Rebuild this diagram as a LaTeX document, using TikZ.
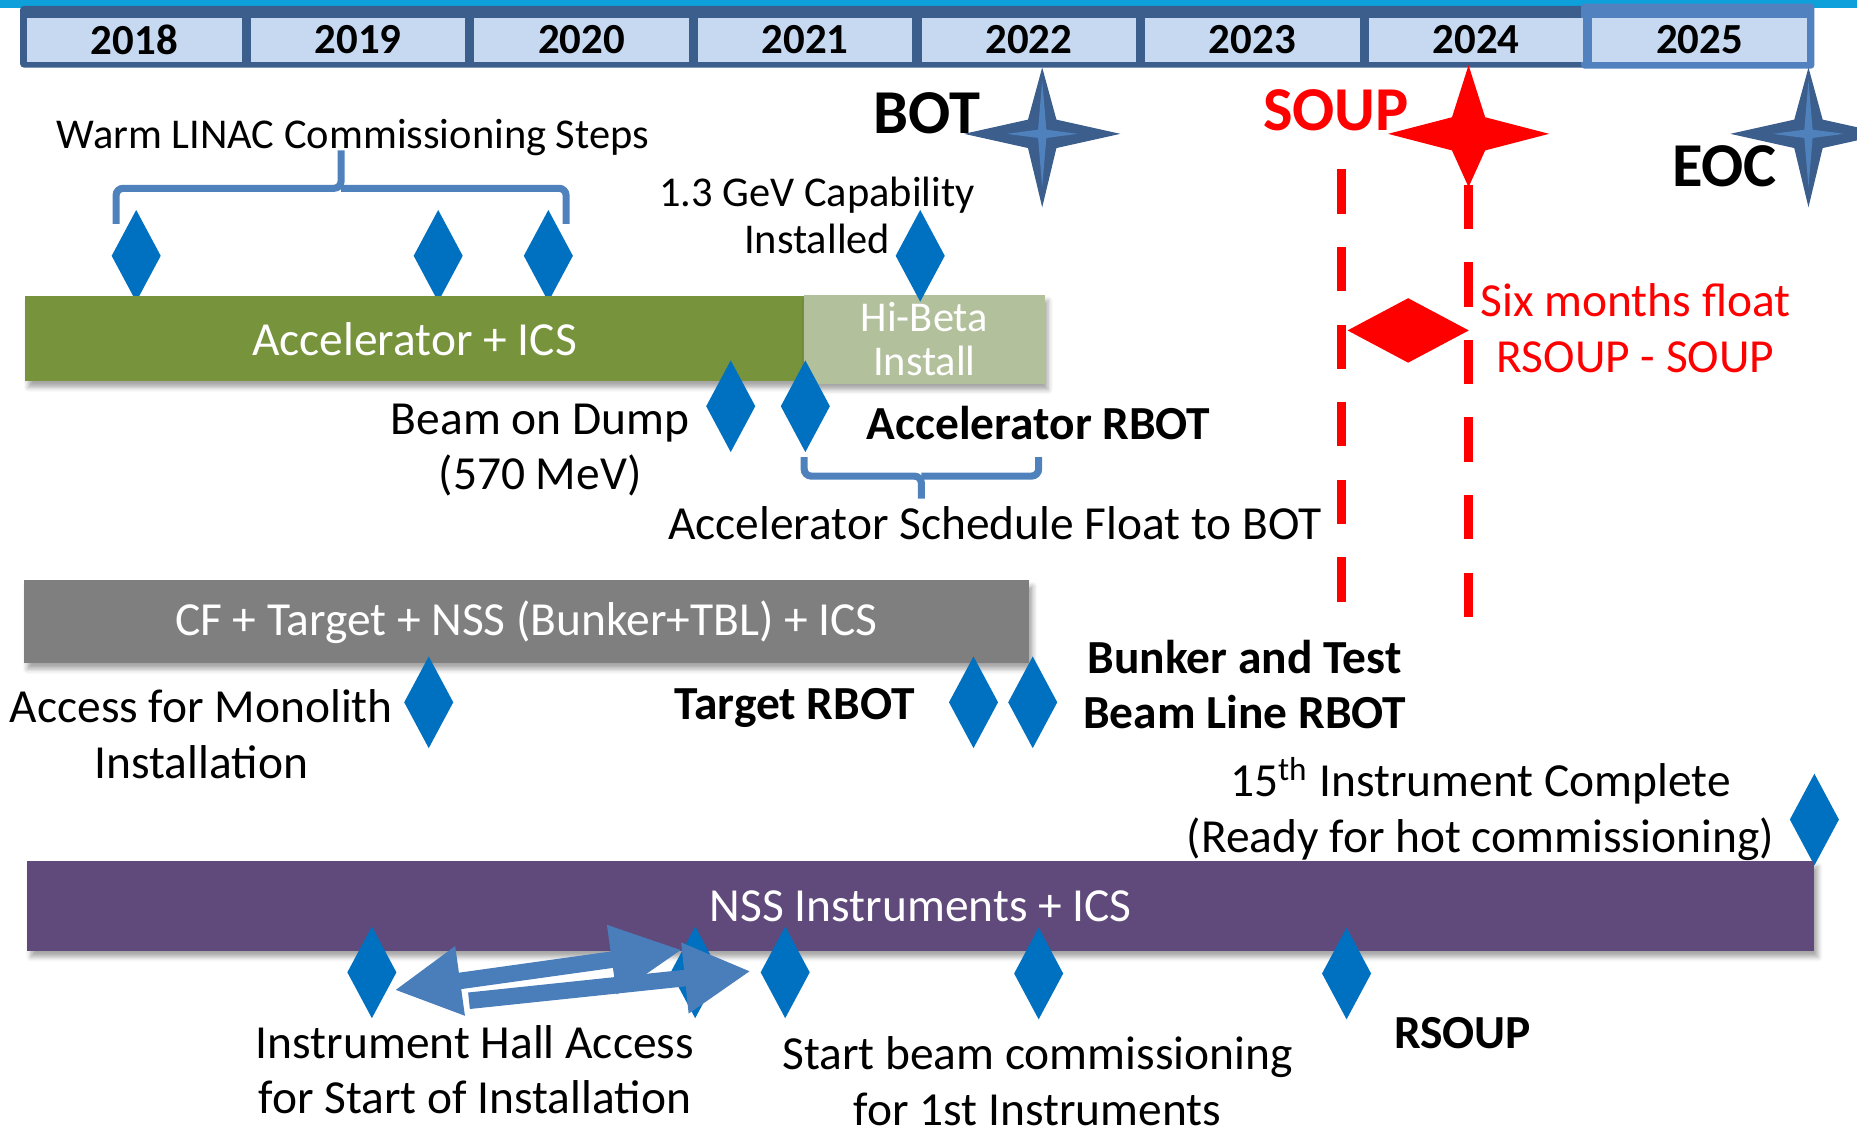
\documentclass[tikz,border=0pt]{standalone}
\usepackage{fontspec}
\setmainfont{Carlito}
\usetikzlibrary{shapes.geometric,arrows.meta,calc,shadows.blur}

\definecolor{topline}{HTML}{0EA0DA}
\definecolor{yearbar}{HTML}{3B5E8C}
\definecolor{yearedge}{HTML}{5181BE}
\definecolor{yearcell}{HTML}{C6D9F1}
\definecolor{mileblue}{HTML}{0070C0}
\definecolor{bracecol}{HTML}{4F81BD}
\definecolor{arrowcol}{HTML}{4A7EBB}
\definecolor{accgreen}{HTML}{77933C}
\definecolor{hibeta}{HTML}{B2C09B}
\definecolor{cfgray}{HTML}{7F7F7F}
\definecolor{nsspurple}{HTML}{604A7B}

% centre, colour, arm up, arm down, arm sideways, waist
\newcommand{\milestar}[6]{%
  \fill[#2] ($(#1)+(0,#3)$) -- ($(#1)+(#6,#6)$) -- ($(#1)+(#5,0)$)
    -- ($(#1)+(#6,-#6)$) -- ($(#1)+(0,-#4)$) -- ($(#1)+(-#6,-#6)$)
    -- ($(#1)+(-#5,0)$) -- ($(#1)+(-#6,#6)$) -- cycle;}

\tikzset{
  yearbox/.style={fill=yearcell, minimum width=1.81cm, minimum height=0.37cm, inner sep=0pt,
    font=\fontsize{10.3}{12}\selectfont\bfseries},
  milestone/.style={diamond, fill=mileblue, minimum width=0.42cm, minimum height=0.78cm, inner sep=0pt},
  txt/.style={align=center, inner sep=0pt, font=\fontsize{11.4}{13.3}\selectfont},
  txtsmall/.style={align=center, inner sep=0pt, font=\fontsize{10.2}{11.2}\selectfont},
  txtbold/.style={align=center, inner sep=0pt, font=\fontsize{11.4}{13.3}\selectfont\bfseries},
  txtbig/.style={inner sep=0pt, font=\fontsize{15}{18}\selectfont\bfseries},
  bar/.style={inner sep=0pt, text=white, font=\fontsize{11.4}{13.3}\selectfont,
    blur shadow={shadow xshift=0.03cm, shadow yshift=-0.05cm, shadow blur radius=0.04cm, shadow opacity=35}},
  brace/.style={draw=bracecol, line width=0.06cm, rounded corners=0.06cm},
  floatline/.style={draw=red, line width=0.075cm, dash pattern=on 0.375cm off 0.28cm},
  fatarrow/.style={draw=arrowcol, line width=0.14cm}
}

\begin{document}
\begin{tikzpicture}[>=Triangle]

\useasboundingbox (0,0) rectangle (15.68,-9.55);
\clip (0,0) rectangle (15.68,-9.55);

% years
\fill[topline] (0,0) rectangle (15.68,-0.07);
\fill[yearbar, rounded corners=0.03cm] (0.17,-0.05) rectangle (13.45,-0.57);
\fill[yearedge, rounded corners=0.03cm] (13.35,-0.03) rectangle (15.32,-0.58);
\foreach \yr [count=\i from 0] in {2018,...,2025}
  \node[yearbox] at ({1.135+1.888*\i},-0.335) (Y\yr) {\yr};

% stars
\coordinate (BOTSTAR) at (8.80,-1.13);
\coordinate (SOUPSTAR) at (12.40,-1.13);
\coordinate (EOCSTAR) at (15.27,-1.13);
\milestar{BOTSTAR}{yearbar}{0.56}{0.62}{0.66}{0.12}
\milestar{BOTSTAR}{bracecol}{0.45}{0.45}{0.30}{0.035}
\milestar{EOCSTAR}{yearbar}{0.56}{0.62}{0.66}{0.12}
\milestar{EOCSTAR}{bracecol}{0.45}{0.45}{0.30}{0.035}
\milestar{SOUPSTAR}{red}{0.58}{0.45}{0.68}{0.14}
\node[txtbig] at (7.83,-0.96) (BOT) {BOT};
\node[txtbig, text=red] at (11.28,-0.93) (SOUP) {SOUP};
\node[txtbig] at (14.56,-1.40) (EOC) {EOC};

% float between SOUP and RSOUP
\coordinate (SOUPa) at (11.33,-1.43);
\coordinate (SOUPb) at (11.33,-5.08);
\coordinate (RSOUPa) at (12.40,-1.56);
\coordinate (RSOUPb) at (12.40,-5.21);
\draw[floatline] (SOUPa) -- (SOUPb);
\draw[floatline] (RSOUPa) -- (RSOUPb);
\node[diamond, fill=red, minimum width=1.03cm, minimum height=0.55cm, inner sep=0pt] at (11.89,-2.79) (FLOAT) {};
\node[txt, text=red] at (13.81,-2.77) (FLOATTXT) {Six months float\\RSOUP - SOUP};

% accelerator
\node[txtsmall] at (2.98,-1.16) (WARM) {Warm LINAC Commissioning Steps};
\draw[brace] (0.98,-1.89) |- (2.88,-1.59) -- (2.88,-1.27);
\draw[brace] (2.88,-1.59) -| (4.78,-1.89);
\node[milestone] at (1.15,-2.16) (W1) {};
\node[milestone] at (3.70,-2.16) (W2) {};
\node[milestone] at (4.63,-2.16) (W3) {};
\node[txtsmall] at (6.90,-1.82) (GEV) {1.3 GeV Capability\\Installed};
\node[bar, fill=accgreen, minimum width=6.58cm, minimum height=0.72cm] at (3.50,-2.86) (ACC) {Accelerator + ICS};
\node[bar, fill=hibeta, minimum width=2.03cm, minimum height=0.75cm, align=center,
  font=\fontsize{10.2}{10.6}\selectfont] at (7.805,-2.865) (HIB) {Hi-Beta\\Install};
\node[milestone] at (7.77,-2.16) (GEVM) {};
\node[milestone] at (6.17,-3.43) (DUMPM) {};
\node[milestone] at (6.80,-3.43) (ARBOTM) {};
\node[txt] at (4.56,-3.80) (DUMP) {Beam on Dump\\(570 MeV)};
\node[txtbold] at (8.77,-3.57) (ARBOT) {Accelerator RBOT};
\draw[brace] (6.79,-3.86) |- (7.78,-4.02) -- (7.78,-4.21);
\draw[brace] (7.78,-4.02) -| (8.77,-3.86);
\node[txt] at (8.40,-4.42) (SCHED) {Accelerator Schedule Float to BOT};

% target
\node[bar, fill=cfgray, minimum width=8.49cm, minimum height=0.70cm] at (4.445,-5.25) (CF) {CF + Target + NSS (Bunker+TBL) + ICS};
\node[milestone] at (3.62,-5.93) (MONOM) {};
\node[milestone] at (8.22,-5.93) (TRBOTM) {};
\node[milestone] at (8.72,-5.93) (BRBOTM) {};
\node[txt] at (1.70,-6.20) (MONO) {Access for Monolith\\Installation};
\node[txtbold] at (6.71,-5.98) (TRBOT) {Target RBOT};
\node[txtbold] at (10.51,-5.78) (BRBOT) {Bunker and Test\\Beam Line RBOT};

% instruments
\node[txt] at (12.50,-6.83) (HOT) {15\textsuperscript{th} Instrument Complete\\(Ready for hot commissioning)};
\node[milestone] at (15.32,-6.92) (HOTM) {};
\node[bar, fill=nsspurple, minimum width=15.09cm, minimum height=0.76cm] at (7.775,-7.65) (NSS) {NSS Instruments + ICS};
\node[milestone] at (3.14,-8.21) (HALLM) {};
\node[milestone] at (5.87,-8.21) (INSTM) {};
\node[milestone] at (6.63,-8.21) (BEAMM) {};
\node[milestone] at (8.77,-8.22) (FIRSTM) {};
\node[milestone] at (11.37,-8.22) (RSOUPM) {};
\coordinate (HALLL) at (3.33,-8.36);
\coordinate (HALLR) at (5.76,-8.02);
\coordinate (BEAML) at (3.96,-8.45);
\coordinate (BEAMR) at (6.34,-8.20);
\draw[fatarrow, {Triangle[width=0.55cm,length=0.56cm]}-{Triangle[width=0.55cm,length=0.6cm]}] (HALLL) -- (HALLR);
\draw[fatarrow, -{Triangle[width=0.56cm,length=0.56cm]}] (BEAML) -- (BEAMR);
\node[txt] at (4.01,-9.03) (HALL) {Instrument Hall Access\\for Start of Installation};
\node[txt] at (8.76,-9.13) (BEAM) {Start beam commissioning\\for 1st Instruments};
\node[txtbold] at (12.35,-8.72) (RSOUP) {RSOUP};

\end{tikzpicture}
\end{document}
